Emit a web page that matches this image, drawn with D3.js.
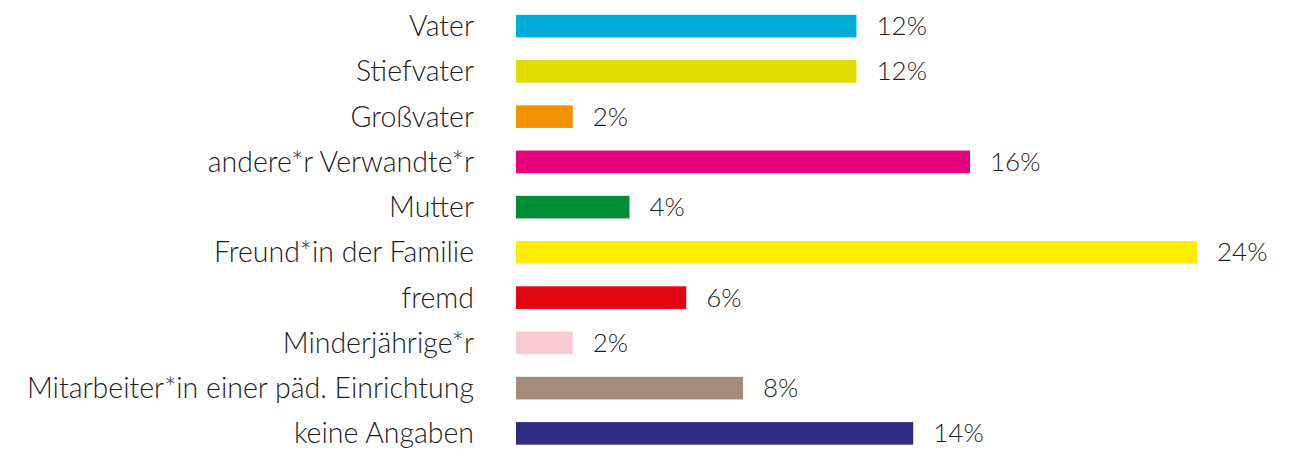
<!DOCTYPE html>
<html>
<head>
<meta charset="utf-8">
<script src="https://cdn.jsdelivr.net/npm/d3@7"></script>
<style>
  body { margin: 0; background: #fff; }
  text { font-family: "Lato", sans-serif; font-weight: 300; fill: #1d1d1b; }
</style>
</head>
<body>
<svg id="chart" width="1305" height="453"></svg>
<script>
var categories = ["Vater", "Stiefvater", "Großvater", "andere*r Verwandte*r", "Mutter",
  "Freund*in der Familie", "fremd", "Minderjährige*r",
  "Mitarbeiter*in einer päd. Einrichtung", "keine Angaben"];
var values = [12, 12, 2, 16, 4, 24, 6, 2, 8, 14];
var colors = ["#00acd8", "#dedc00", "#f39200", "#e6007e", "#008d36",
  "#ffed00", "#e30613", "#f9cbd0", "#a78b7a", "#2d2e83"];

var svg = d3.select("#chart");
var x = d3.scaleLinear().domain([0, 24]).range([516, 1197]);
var y = d3.scaleBand().domain(categories).range([3.5, 456]).paddingInner(0.5).paddingOuter(0.25);

var rows = svg.selectAll(".row")
  .data(categories)
  .enter()
  .append("g")
  .attr("class", "row");

rows.append("rect")
  .attr("x", x(0))
  .attr("y", function(d) { return y(d); })
  .attr("width", function(d, i) { return x(values[i]) - x(0); })
  .attr("height", y.bandwidth())
  .style("fill", function(d, i) { return colors[i]; });

rows.append("text")
  .attr("x", 474)
  .attr("y", function(d) { return y(d) + y.bandwidth() / 2; })
  .attr("dy", "0.35em")
  .attr("text-anchor", "end")
  .style("font-size", "28.5px")
  .text(function(d) { return d; });

rows.append("text")
  .attr("x", function(d, i) { return x(values[i]) + 20; })
  .attr("y", function(d) { return y(d) + y.bandwidth() / 2; })
  .attr("dy", "0.35em")
  .style("font-size", "26px")
  .text(function(d, i) { return values[i] + "%"; });
</script>
</body>
</html>
